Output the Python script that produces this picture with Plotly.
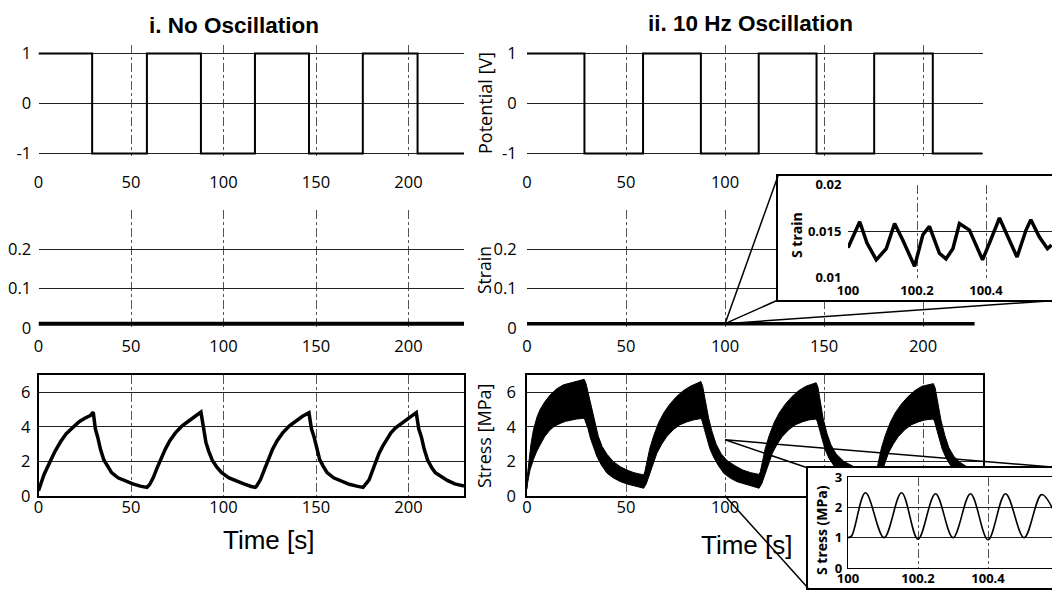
import plotly.graph_objects as go

# ---------------- data ----------------
x_ticks = [0, 50, 100, 150, 200]
pot_ticks = [-1, 0, 1]
strain_ticks = [0, 0.1, 0.2]
strain_ticktext = ["0", "0.1", "0.2"]
stress_ticks = [0, 2, 4, 6]

# applied potential (square wave), switching times [s]
square_t = [0, 29.0, 58.6, 87.8, 117.0, 146.2, 175.3, 204.9, 230]
square_v = [1, -1, 1, -1, 1, -1, 1, -1, -1]

# strain (whole record)
strain_left_t = [0, 230]
strain_left_v = [0.011, 0.011]
strain_right_t = [0, 226]
strain_right_v = [0.011, 0.011]

# stress, no oscillation
stress_t = [0, 1, 3, 6.3, 9, 12, 15, 18.4, 22, 25, 28, 29.6,
            30.1, 30.7, 32, 33.5, 35.3, 37.5, 39.5, 43, 47, 51, 55, 58.6,
            60, 62, 64, 66, 68.5, 71, 74, 77.5, 81, 84.5, 87.8,
            88.3, 89, 90.5, 92, 94, 96.5, 99, 103, 107, 111, 115, 117.2,
            118, 120, 122, 124, 126.5, 129, 132, 135.5, 139, 142.5, 146.2,
            146.7, 147.5, 149, 150.5, 152, 154, 156, 159.5, 163.5, 168, 172, 175.4,
            176.2, 178.7, 180.5, 182.3, 184, 186, 188, 190.5, 193, 196, 199, 201.5, 204.2,
            204.7, 205.5, 207, 208.5, 210.3, 212.5, 214.5, 217.5, 221, 225, 230]
stress_v = [0.3, 0.65, 1.25, 2.0, 2.6, 3.15, 3.6, 3.95, 4.3, 4.5, 4.65, 4.85,
            4.45, 3.9, 3.4, 2.7, 2.1, 1.65, 1.35, 1.05, 0.85, 0.7, 0.57, 0.5,
            0.65, 1.05, 1.6, 2.1, 2.7, 3.2, 3.65, 4.05, 4.35, 4.6, 4.85,
            4.5, 3.9, 3.1, 2.6, 2.05, 1.65, 1.35, 1.05, 0.85, 0.7, 0.55, 0.5,
            0.6, 0.95, 1.5, 2.05, 2.7, 3.2, 3.65, 4.05, 4.35, 4.6, 4.82,
            4.45, 3.9, 3.4, 2.7, 2.1, 1.7, 1.35, 1.05, 0.85, 0.68, 0.57, 0.5,
            0.6, 0.93, 1.45, 2.0, 2.45, 2.87, 3.25, 3.65, 3.95, 4.2, 4.45, 4.62, 4.82,
            4.45, 3.9, 3.4, 2.7, 2.1, 1.65, 1.35, 1.13, 0.9, 0.7, 0.58]

# stress with 10 Hz oscillation: upper and lower envelope of the band
osc_upper_t = [0, 0.7, 2, 3.2, 5, 6.6, 9, 11.7, 15, 18.4, 22, 25.2, 28.9,
               29.8, 31, 32.5, 34, 36, 38, 40.5, 43.5, 47, 50.5, 54, 57, 58.9,
               59.5, 60.5, 62, 64, 66.5, 69, 72, 75.5, 79, 82.5, 87.8,
               88.7, 90, 91.7, 93.5, 95.5, 98, 101, 105, 109, 113, 117.2,
               117.8, 118.8, 120.3, 122.3, 124.8, 127.3, 130.3, 133.8, 137.3, 140.8, 146,
               146.9, 148, 149.5, 151.5, 153.5, 156, 160, 165, 170, 175.8,
               176.4, 177.4, 178.9, 180.9, 183.4, 185.9, 188.9, 192.4, 195.9, 199.4, 205.2,
               206.1, 207.3, 209, 211, 213, 215.5, 218.5, 222, 226, 230]
osc_upper_v = [1.0, 1.7, 3.0, 3.8, 4.55, 5.0, 5.45, 5.85, 6.2, 6.43, 6.55, 6.65, 6.75,
               6.5, 5.9, 5.1, 4.3, 3.45, 2.85, 2.4, 2.0, 1.7, 1.5, 1.35, 1.27, 1.22,
               1.4, 2.0, 2.75, 3.5, 4.25, 4.8, 5.3, 5.75, 6.1, 6.35, 6.62,
               6.35, 5.6, 4.5, 3.7, 3.0, 2.45, 2.05, 1.75, 1.5, 1.35, 1.25,
               1.4, 2.0, 2.75, 3.5, 4.25, 4.8, 5.3, 5.75, 6.1, 6.35, 6.55,
               6.3, 5.5, 4.5, 3.6, 2.95, 2.45, 2.0, 1.7, 1.5, 1.3,
               1.4, 2.0, 2.75, 3.5, 4.25, 4.8, 5.3, 5.75, 6.1, 6.35, 6.5,
               6.25, 5.5, 4.4, 3.5, 2.8, 2.3, 1.95, 1.7, 1.5, 1.4]
osc_lower_t = [0, 0.3, 1.5, 3.2, 5, 6.6, 9, 11.7, 14, 16.8, 19.5, 21.9, 25, 28.9,
               29.5, 30.8, 32, 33.5, 35.3, 37.5, 40.4, 43.5, 47.2, 51, 55.6, 58.9,
               60.2, 61.4, 63, 64.5, 65.6, 68, 70.6, 74, 77.2, 81, 84, 87.8,
               88.4, 89.6, 90.8, 92.3, 94.2, 96.4, 99.3, 102.4, 106, 110, 114, 117.2,
               118.5, 119.7, 121.3, 122.8, 123.9, 126.3, 128.9, 132.3, 135.5, 139.3, 142.3, 146,
               146.6, 147.8, 149, 150.5, 152.4, 154.6, 157.5, 160.6, 164.2, 168.2, 172.2, 175.8,
               177.1, 178.3, 179.9, 181.4, 182.5, 184.9, 187.5, 190.9, 194.1, 197.9, 200.9, 205.2,
               205.8, 207, 208.2, 209.7, 211.6, 213.8, 216.7, 219.8, 223.4, 227.4, 230]
osc_lower_v = [0.4, 0.75, 1.5, 2.1, 2.6, 2.95, 3.45, 3.83, 4.05, 4.2, 4.32, 4.4, 4.45, 4.5,
               4.4, 3.9, 3.35, 2.8, 2.28, 1.8, 1.32, 1.05, 0.83, 0.68, 0.54, 0.45,
               0.7, 1.12, 1.6, 2.1, 2.48, 3.0, 3.44, 3.85, 4.12, 4.3, 4.4, 4.48,
               4.35, 3.85, 3.3, 2.75, 2.25, 1.8, 1.32, 1.05, 0.83, 0.68, 0.55, 0.45,
               0.7, 1.12, 1.6, 2.1, 2.48, 3.0, 3.44, 3.85, 4.12, 4.3, 4.4, 4.45,
               4.3, 3.8, 3.25, 2.7, 2.2, 1.78, 1.3, 1.03, 0.82, 0.67, 0.54, 0.45,
               0.7, 1.12, 1.6, 2.1, 2.48, 3.0, 3.44, 3.85, 4.12, 4.3, 4.4, 4.45,
               4.3, 3.8, 3.25, 2.7, 2.2, 1.78, 1.3, 1.03, 0.82, 0.67, 0.6]

# zoomed strain (inset)
inset_strain_t = [100.0, 100.034, 100.055, 100.082, 100.111, 100.135, 100.159, 100.193,
                  100.217, 100.236, 100.265, 100.284, 100.304, 100.323, 100.352, 100.39,
                  100.41, 100.439, 100.463, 100.49, 100.516, 100.53, 100.554, 100.578, 100.59]
inset_strain_v = [0.0132, 0.0160, 0.0137, 0.0119, 0.0131, 0.0158, 0.0140, 0.0112,
                  0.0146, 0.0155, 0.0126, 0.0120, 0.0131, 0.0158, 0.0151, 0.0119,
                  0.0137, 0.0164, 0.0144, 0.0122, 0.0151, 0.0162, 0.0144, 0.0131, 0.0135]
inset_strain_xticks = [100, 100.2, 100.4]
inset_strain_yticks = [0.01, 0.015, 0.02]
inset_strain_yticktext = ["0.01", "0.015", "0.02"]

# zoomed stress (inset)
inset_stress_t = [100.0, 100.01, 100.05, 100.103, 100.153, 100.2, 100.25, 100.3,
                  100.35, 100.4, 100.45, 100.503, 100.553, 100.585]
inset_stress_v = [1.0, 1.05, 2.48, 1.0, 2.48, 0.95, 2.45, 1.0, 2.45, 0.93, 2.45, 1.0, 2.42, 1.95]
inset_stress_xticks = [100, 100.2, 100.4]
inset_stress_yticks = [0, 1, 2, 3]

# points of the main plots that the insets magnify
zoom_strain_point = (100, 0.011)
zoom_stress_top = (100, 3.25)
zoom_stress_bottom = (100, 0)

# ---------------- layout geometry ----------------
W, H = 1052, 590


def px(x):
    return x / W


def py(y):
    return 1 - y / H


LEFT = [px(38.5), px(464)]
RIGHT = [px(527), px(982.5)]
ROW_TOP = [py(156), py(45)]
ROW_MID = [py(328), py(210)]
ROW_BOT = [py(496), py(375)]
X_RANGE = [0, 230]
POT_RANGE = [-1.05, 1.17]
STRAIN_RANGE = [0, 0.3]
STRESS_RANGE = [0, 7]

SBOX_X = [px(778), 1.0]
SBOX_Y = [py(300), py(176)]
SIN_X = [px(848), 1.0]
SIN_Y = [py(277.5), py(184.5)]
SIN_XR = [100, 100 + 204 / 345]
SIN_YR = [0.01, 0.02]

TBOX_X = [px(808), 1.0]
TBOX_Y = [py(588), py(468)]
TIN_X = [px(848), 1.0]
TIN_Y = [py(568), py(477)]
TIN_XR = [100, 100 + 204 / 350]
TIN_YR = [0, 3]

tickfont = dict(family="Open Sans", size=16.5, color="black")
insetfont = dict(family="Open Sans", size=13, color="black", weight="bold")
BLK = "black"
VGRID = "#555555"
HGRID = "#222222"

fig = go.Figure()

# potential
fig.add_trace(go.Scatter(x=square_t, y=square_v, mode="lines", line=dict(color=BLK, width=2, shape="hv"),
                         xaxis="x", yaxis="y", cliponaxis=False))
fig.add_trace(go.Scatter(x=square_t, y=square_v, mode="lines", line=dict(color=BLK, width=2, shape="hv"),
                         xaxis="x2", yaxis="y2", cliponaxis=False))
# strain
fig.add_trace(go.Scatter(x=strain_left_t, y=strain_left_v, mode="lines", line=dict(color=BLK, width=4),
                         xaxis="x3", yaxis="y3", cliponaxis=False))
fig.add_trace(go.Scatter(x=strain_right_t, y=strain_right_v, mode="lines", line=dict(color=BLK, width=3.5),
                         xaxis="x4", yaxis="y4", cliponaxis=False))
# stress
fig.add_trace(go.Scatter(x=stress_t, y=stress_v, mode="lines", line=dict(color=BLK, width=3.5),
                         xaxis="x5", yaxis="y5"))
fig.add_trace(go.Scatter(x=osc_upper_t + osc_lower_t[::-1], y=osc_upper_v + osc_lower_v[::-1],
                         mode="lines", fill="toself", fillcolor=BLK, line=dict(color=BLK, width=1),
                         xaxis="x6", yaxis="y6"))
# inset backgrounds (boxes)
fig.add_trace(go.Scatter(x=[None], y=[None], xaxis="x7", yaxis="y7", hoverinfo="skip"))
fig.add_trace(go.Scatter(x=inset_strain_t, y=inset_strain_v, mode="lines", line=dict(color=BLK, width=3.5),
                         xaxis="x8", yaxis="y8"))
fig.add_trace(go.Scatter(x=[None], y=[None], xaxis="x9", yaxis="y9", hoverinfo="skip"))
fig.add_trace(go.Scatter(x=inset_stress_t, y=inset_stress_v, mode="lines",
                         line=dict(color=BLK, width=1.6, shape="spline", smoothing=1),
                         xaxis="x10", yaxis="y10"))


def xax(dom, anchor, ticklen, frame=False, standoff=0, labels=None):
    d = dict(domain=dom, anchor=anchor, range=X_RANGE, tickmode="array", tickvals=x_ticks,
             ticktext=labels if labels is not None else [str(v) for v in x_ticks],
             showgrid=True, gridcolor=VGRID, gridwidth=1,
             griddash="dashdot", zeroline=False, tickfont=tickfont, fixedrange=True, automargin=False,
             showline=frame, mirror=frame, linecolor=BLK, linewidth=1.5, ticklabelstandoff=standoff)
    if ticklen > 0:
        d.update(ticks="outside", ticklen=ticklen, tickcolor="rgba(0,0,0,0)")
    else:
        d.update(ticks="")
    return d


def yax(dom, anchor, rng, tv, tt, ticklen, frame=False):
    return dict(domain=dom, anchor=anchor, range=rng, tickmode="array", tickvals=tv, ticktext=tt,
                showgrid=True, gridcolor=HGRID, gridwidth=1.2, zeroline=False, tickfont=tickfont,
                ticks="outside", ticklen=ticklen, tickcolor="rgba(0,0,0,0)", fixedrange=True,
                automargin=False, showline=frame, mirror=frame, linecolor=BLK, linewidth=1.5)


pot_tt = [str(v) for v in pot_ticks]
stress_tt = [str(v) for v in stress_ticks]
# labels 150 and 200 of the lower-right panel lie under the stress inset
x6_labels = ["0", "50", "100", "", ""]

box_common = dict(range=[0, 1], showticklabels=False, showgrid=False, zeroline=False, ticks="",
                  showline=True, linecolor=BLK, linewidth=1.5, fixedrange=True, automargin=False)

layout = dict(
    width=W, height=H, margin=dict(l=0, r=0, t=0, b=0, autoexpand=False),
    paper_bgcolor="white", plot_bgcolor="white", showlegend=False,
    xaxis=xax(LEFT, "y", 11), yaxis=yax(ROW_TOP, "x", POT_RANGE, pot_ticks, pot_tt, 3),
    xaxis2=xax(RIGHT, "y2", 11), yaxis2=yax(ROW_TOP, "x2", POT_RANGE, pot_ticks, pot_tt, 6),
    xaxis3=xax(LEFT, "y3", 3), yaxis3=yax(ROW_MID, "x3", STRAIN_RANGE, strain_ticks, strain_ticktext, 3),
    xaxis4=xax(RIGHT, "y4", 3), yaxis4=yax(ROW_MID, "x4", STRAIN_RANGE, strain_ticks, strain_ticktext, 6),
    xaxis5=xax(LEFT, "y5", 0, True, -5),
    yaxis5=yax(ROW_BOT, "x5", STRESS_RANGE, stress_ticks, stress_tt, 3, True),
    xaxis6=xax(RIGHT, "y6", 0, True, -5, x6_labels),
    yaxis6=yax(ROW_BOT, "x6", STRESS_RANGE, stress_ticks, stress_tt, 6, True),
    # strain inset box
    xaxis7=dict(domain=SBOX_X, anchor="y7", mirror=True, **box_common),
    yaxis7=dict(domain=SBOX_Y, anchor="x7", mirror=False, **box_common),
    xaxis8=dict(domain=SIN_X, anchor="y8", range=SIN_XR, tickmode="array", tickvals=inset_strain_xticks,
                ticktext=["100", "100.2", "100.4"], showgrid=True, gridcolor=VGRID, griddash="dashdot",
                gridwidth=1, zeroline=False, tickfont=insetfont, ticks="outside", ticklen=1,
                tickcolor="rgba(0,0,0,0)", fixedrange=True, automargin=False),
    yaxis8=dict(domain=SIN_Y, anchor="x8", range=SIN_YR, tickmode="array", tickvals=inset_strain_yticks,
                ticktext=inset_strain_yticktext, showgrid=True, gridcolor=HGRID, gridwidth=1.2,
                zeroline=False, tickfont=insetfont, ticks="outside", ticklen=3,
                tickcolor="rgba(0,0,0,0)", fixedrange=True, automargin=False),
    # stress inset box
    xaxis9=dict(domain=TBOX_X, anchor="y9", mirror=True, **box_common),
    yaxis9=dict(domain=TBOX_Y, anchor="x9", mirror=False, **box_common),
    xaxis10=dict(domain=TIN_X, anchor="y10", range=TIN_XR, tickmode="array", tickvals=inset_stress_xticks,
                 ticktext=["100", "100.2", "100.4"], showgrid=True, gridcolor=VGRID, griddash="dashdot",
                 gridwidth=1, zeroline=False, tickfont=insetfont, ticks="", showline=True, mirror=True,
                 linecolor=BLK, linewidth=1.2, fixedrange=True, automargin=False, ticklabelstandoff=-2),
    yaxis10=dict(domain=TIN_Y, anchor="x10", range=TIN_YR, tickmode="array", tickvals=inset_stress_yticks,
                 ticktext=[str(v) for v in inset_stress_yticks], showgrid=True, gridcolor=HGRID,
                 gridwidth=1.2, zeroline=False, tickfont=insetfont, ticks="outside", ticklen=2,
                 tickcolor="rgba(0,0,0,0)", showline=True, mirror=False, linecolor=BLK, linewidth=1.2,
                 fixedrange=True, automargin=False),
)
fig.update_layout(**layout)


def to_paper(xdom, xr, ydom, yr, pt):
    x, y = pt
    xp = xdom[0] + (x - xr[0]) / (xr[1] - xr[0]) * (xdom[1] - xdom[0])
    yp = ydom[0] + (y - yr[0]) / (yr[1] - yr[0]) * (ydom[1] - ydom[0])
    return xp, yp


shapes = []
ps = to_paper(RIGHT, X_RANGE, ROW_MID, STRAIN_RANGE, zoom_strain_point)
for corner in [(SBOX_X[0], SBOX_Y[1]), (SBOX_X[0], SBOX_Y[0]), (1.01, SBOX_Y[0])]:
    shapes.append(dict(type="line", xref="paper", yref="paper", x0=ps[0], y0=ps[1],
                       x1=corner[0], y1=corner[1], line=dict(color=BLK, width=1.5), layer="above"))
pt_top = to_paper(RIGHT, X_RANGE, ROW_BOT, STRESS_RANGE, zoom_stress_top)
pt_bot = to_paper(RIGHT, X_RANGE, ROW_BOT, STRESS_RANGE, zoom_stress_bottom)
for start, corner in [(pt_top, (TBOX_X[0], TBOX_Y[1])), (pt_top, (1.01, TBOX_Y[1])),
                      (pt_bot, (TBOX_X[0], TBOX_Y[0]))]:
    shapes.append(dict(type="line", xref="paper", yref="paper", x0=start[0], y0=start[1],
                       x1=corner[0], y1=corner[1], line=dict(color=BLK, width=1.5), layer="above"))
fig.update_layout(shapes=shapes)

ann = []


def add_text(text, x, y, size, family, angle=0, bold=False):
    ann.append(dict(text=("<b>%s</b>" % text) if bold else text, x=px(x), y=py(y), xref="paper",
                    yref="paper", showarrow=False, textangle=angle, xanchor="center", yanchor="middle",
                    font=dict(family=family, size=size, color=BLK)))


add_text("i. No Oscillation", 234, 26, 22.5, "Liberation Sans", bold=True)
add_text("ii. 10 Hz Oscillation", 750, 23, 22.5, "Liberation Sans", bold=True)
add_text("Time [s]", 268, 540, 26, "Liberation Sans")
add_text("Time [s]", 746, 545, 26, "Liberation Sans")
add_text("Potential [V]", 485, 103, 18, "Open Sans", angle=-90)
add_text("Strain", 484, 270, 17.5, "Open Sans", angle=-90)
add_text("Stress [MPa]", 484, 436, 18, "Open Sans", angle=-90)
add_text("S train", 796, 235, 14, "Open Sans", angle=-90, bold=True)
add_text("S tress (MPa)", 821, 530, 14, "Open Sans", angle=-90, bold=True)
fig.update_layout(annotations=ann)

fig.write_html("out.html", config={"displayModeBar": False}, post_script=(
    "document.documentElement.style.margin='0';document.body.style.margin='0';"
    "document.body.style.padding='0';document.body.style.overflow='hidden';"))
